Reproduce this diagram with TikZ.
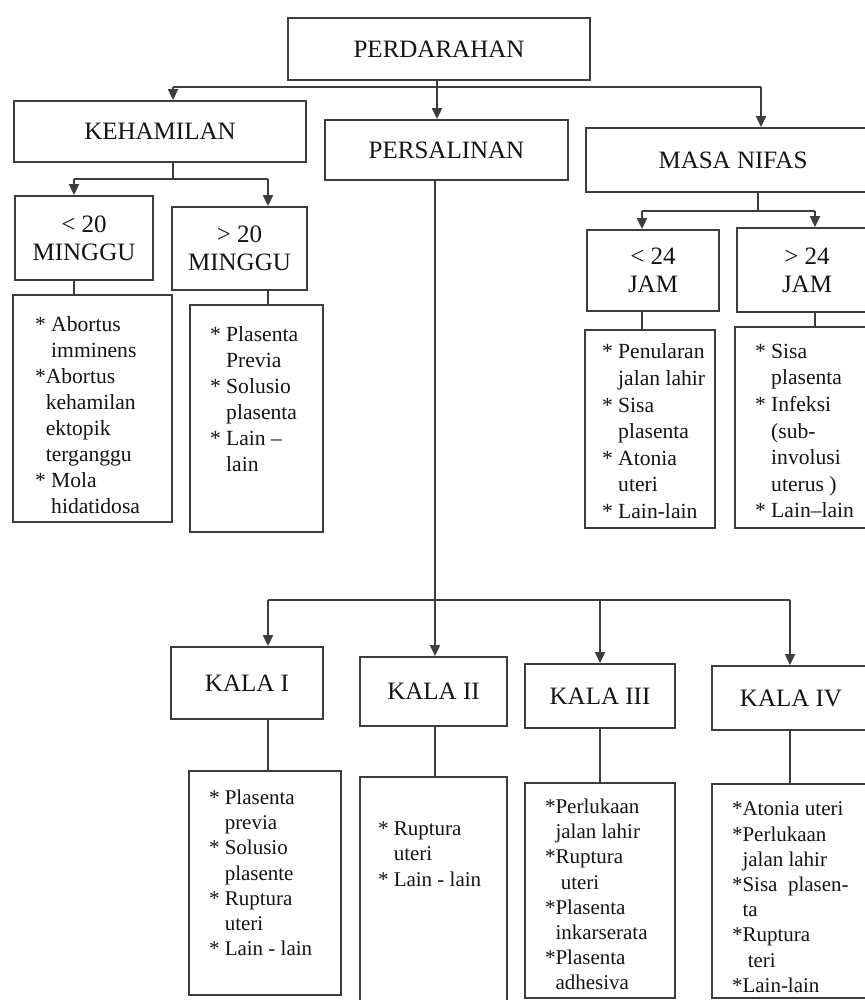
\documentclass[tikz,border=0pt]{standalone}
\usepackage{fontspec}
\setmainfont{Liberation Serif}
\usetikzlibrary{arrows.meta}
\definecolor{inkgrey}{rgb}{0.24,0.24,0.24}
\newcommand{\lstar}{{*}}
\newcommand{\ind}{\hphantom{* }}
\newcommand{\indd}{\hphantom{*}}

\begin{document}
\begin{tikzpicture}[>={Triangle[length=5.5pt,width=5pt]}, x=0.5pt, y=-0.5pt,
  color=inkgrey, line width=0.9pt,
  headbox/.style={draw, rectangle, inner sep=0pt, align=center, text=black!92,
    font=\fontsize{12.5}{14}\selectfont},
  listbox/.style={draw, rectangle, inner sep=0pt},
  listtext/.style={anchor=north west, inner sep=0pt, align=left, text=black!92,
    font=\fontsize{10.8}{13.3}\selectfont},
  kalatext/.style={listtext, font=\fontsize{10.5}{12.6}\selectfont}]
  \fill[white] (0,0) rectangle (865,1000);
  \useasboundingbox (0,0) rectangle (865,1000);

  % top level
  \node[headbox, minimum width=151pt, minimum height=31pt] (perd) at (439,49) {PERDARAHAN};
  \node[headbox, minimum width=146pt, minimum height=30.5pt] (keh) at (160,131.5) {KEHAMILAN};
  \node[headbox, minimum width=121.5pt, minimum height=30pt] (pers) at (446.5,150) {PERSALINAN};
  \node[headbox, minimum width=147pt, minimum height=32pt] (nifas) at (733,160) {MASA NIFAS};

  \coordinate (pk) at (173,87);
  \coordinate (pm) at (437,87);
  \coordinate (pn) at (761,87);
  \draw[->] (perd.south -| pm) -- (pers.north -| pm);
  \draw (pk) -- (pn);
  \draw[->] (pk) -- (keh.north -| pk);
  \draw[->] (pn) -- (nifas.north -| pn);

  % kehamilan
  \node[headbox, minimum width=69pt, minimum height=42pt] (min20) at (84,238) {< 20\\MINGGU};
  \node[headbox, minimum width=67.5pt, minimum height=41.5pt] (maj20) at (239.5,248.5) {> 20\\MINGGU};
  \node[listbox, minimum width=79.5pt, minimum height=113.5pt] (l20a) at (92.5,408.5) {};
  \node[listbox, minimum width=66.5pt, minimum height=113.5pt] (l20b) at (256.5,418.5) {};
  \node[listtext, font=\fontsize{10.8}{13}\selectfont] (t20a) at ([shift={(22,22)}]l20a.north west)
    {\lstar{} Abortus\\ \ind imminens\\ \lstar Abortus\\ \indd kehamilan\\
     \indd ektopik\\ \indd terganggu\\ \lstar{} Mola\\ \ind hidatidosa};
  \node[listtext, font=\fontsize{10.8}{13}\selectfont] (t20b) at ([shift={(20,22)}]l20b.north west)
    {\lstar{} Plasenta\\ \ind Previa\\ \lstar{} Solusio\\ \ind plasenta\\
     \lstar{} Lain –\\ \ind lain};

  \coordinate (kb) at (173,179);
  \coordinate (k1) at (74,179);
  \coordinate (k2) at (268,179);
  \draw (keh.south -| kb) -- (kb);
  \draw (k1) -- (k2);
  \draw[->] (k1) -- (min20.north -| k1);
  \draw[->] (k2) -- (maj20.north -| k2);
  \draw (min20.south -| k1) -- (l20a.north -| k1);
  \draw (maj20.south -| k2) -- (l20b.north -| k2);

  % masa nifas
  \node[headbox, minimum width=66pt, minimum height=40.5pt] (lt24) at (653,270.5) {< 24\\JAM};
  \node[headbox, minimum width=70pt, minimum height=42pt] (gt24) at (807,270) {> 24\\JAM};
  \node[listbox, minimum width=65pt, minimum height=99pt] (l24a) at (650,429) {};
  \node[listbox, minimum width=72.5pt, minimum height=100.5pt] (l24b) at (807.5,427.5) {};
  \node[listtext] (t24a) at ([shift={(17,14)}]l24a.north west)
    {\lstar{} Penularan\\ \ind jalan lahir\\ \lstar{} Sisa\\ \ind plasenta\\
     \lstar{} Atonia\\ \ind uteri\\ \lstar{} Lain-lain};
  \node[listtext] (t24b) at ([shift={(20,17)}]l24b.north west)
    {\lstar{} Sisa\\ \ind plasenta\\ \lstar{} Infeksi\\ \ind (sub-\\
     \ind involusi\\ \ind uterus )\\ \lstar{} Lain–lain};

  \coordinate (nb) at (758,211);
  \coordinate (n1) at (642,211);
  \coordinate (n2) at (815,211);
  \draw (nifas.south -| nb) -- (nb);
  \draw (n1) -- (n2);
  \draw[->] (n1) -- (lt24.north -| n1);
  \draw[->] (n2) -- (gt24.north -| n2);
  \draw (lt24.south -| n1) -- (l24a.north -| n1);
  \draw (gt24.south -| n2) -- (l24b.north -| n2);

  % persalinan
  \node[headbox, minimum width=76pt, minimum height=36pt] (kala1) at (247,683) {KALA I};
  \node[headbox, minimum width=73.5pt, minimum height=34.5pt] (kala2) at (433.5,691.5) {KALA II};
  \node[headbox, minimum width=75pt, minimum height=32pt] (kala3) at (600,696) {KALA III};
  \node[headbox, minimum width=79pt, minimum height=32pt] (kala4) at (791,698) {KALA IV};
  \node[listbox, minimum width=76pt, minimum height=112pt] (lk1) at (265,883) {};
  \node[listbox, minimum width=73.5pt, minimum height=116.5pt] (lk2) at (433.5,893.5) {};
  \node[listbox, minimum width=75pt, minimum height=107.5pt] (lk3) at (600,890.5) {};
  \node[listbox, minimum width=79pt, minimum height=107pt] (lk4) at (791,891) {};
  \node[kalatext] (tk1) at ([shift={(20,19)}]lk1.north west)
    {\lstar{} Plasenta\\ \ind previa\\ \lstar{} Solusio\\ \ind plasente\\
     \lstar{} Ruptura\\ \ind uteri\\ \lstar{} Lain - lain};
  \node[kalatext] (tk2) at ([shift={(18,45)}]lk2.north west)
    {\lstar{} Ruptura\\ \ind uteri\\ \lstar{} Lain - lain};
  \node[kalatext] (tk3) at ([shift={(20,16)}]lk3.north west)
    {\lstar Perlukaan\\ \indd jalan lahir\\ \lstar Ruptura\\ \indd\ uteri\\
     \lstar Plasenta\\ \indd inkarserata\\ \lstar Plasenta\\ \indd adhesiva};
  \node[kalatext] (tk4) at ([shift={(20,18)}]lk4.north west)
    {\lstar Atonia uteri\\ \lstar Perlukaan\\ \indd jalan lahir\\ \lstar Sisa\ \ plasen-\\
     \indd ta\\ \lstar Ruptura\\ \indd\ teri\\ \lstar Lain-lain};

  \coordinate (pb) at (435,600);
  \coordinate (p1) at (268,600);
  \coordinate (p3) at (600,600);
  \coordinate (p4) at (790,600);
  \draw[->] (pers.south -| pb) -- (kala2.north -| pb);
  \draw (p1) -- (p4);
  \draw[->] (p1) -- (kala1.north -| p1);
  \draw[->] (p3) -- (kala3.north -| p3);
  \draw[->] (p4) -- (kala4.north -| p4);
  \draw (kala1.south -| p1) -- (lk1.north -| p1);
  \draw (kala2.south -| pb) -- (lk2.north -| pb);
  \draw (kala3.south -| p3) -- (lk3.north -| p3);
  \draw (kala4.south -| p4) -- (lk4.north -| p4);
\end{tikzpicture}
\end{document}
